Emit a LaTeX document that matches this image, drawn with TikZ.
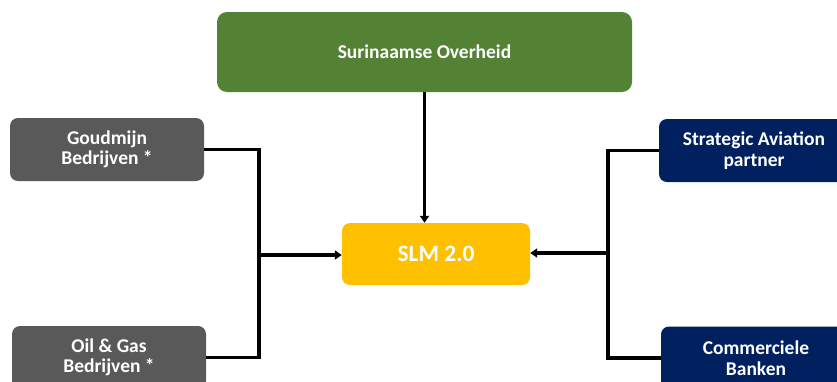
\documentclass[tikz,border=0pt]{standalone}
\usepackage{fontspec}
\setmainfont{Carlito}
\usetikzlibrary{arrows.meta}
\definecolor{govgreen}{HTML}{548235}
\definecolor{slmgold}{HTML}{FFC000}
\definecolor{boxgray}{HTML}{595959}
\definecolor{navyblue}{HTML}{002060}
\tikzset{
  box/.style={rounded corners=8pt, minimum width=#1, align=center, text=white,
    font=\bfseries\fontsize{19.5}{20.5}\selectfont, inner sep=0pt},
  graybox/.style={box=194pt, fill=boxgray, minimum height=63pt},
  navybox/.style={box=190pt, fill=navyblue, minimum height=63pt},
  conn/.style={line width=3.3pt, line join=miter},
  arr/.style={conn, -{Triangle[length=7pt,width=9pt]}},
}
\begin{document}
\begin{tikzpicture}[x=1pt,y=-1pt]
\useasboundingbox (0,0) rectangle (837,381);
\clip (0,0) rectangle (837,381);
\node[box=415pt, fill=govgreen, minimum height=80pt, rounded corners=10pt] (gov) at (424.5,52) {Surinaamse Overheid};
\node[box=188pt, fill=slmgold, minimum height=62pt, font=\bfseries\fontsize{23.5}{25}\selectfont] (slm) at (436,254) {SLM 2.0};
\node[graybox] (goud) at (107,149.5) {Goudmijn\\Bedrijven *};
\node[graybox] (oil) at (109,357.5) {Oil \& Gas\\Bedrijven *};
\node[navybox] (sap) at (754,150.5) {Strategic Aviation\\partner};
\node[navybox] (bank) at (756,358) {Commerciele\\Banken};
\coordinate (lj) at (259,255);
\coordinate (rj) at (608,253);
\draw[conn] (goud.east) -| (lj);
\draw[conn] (oil.east) -| (lj);
\draw[arr] (lj) -- (slm.west |- lj);
\draw[conn] (sap.west) -| (rj);
\draw[conn] (bank.west) -| (rj);
\draw[arr] (rj) -- (slm.east |- rj);
\draw[arr] (gov.south) -- (gov.south |- slm.north);
\end{tikzpicture}
\end{document}
